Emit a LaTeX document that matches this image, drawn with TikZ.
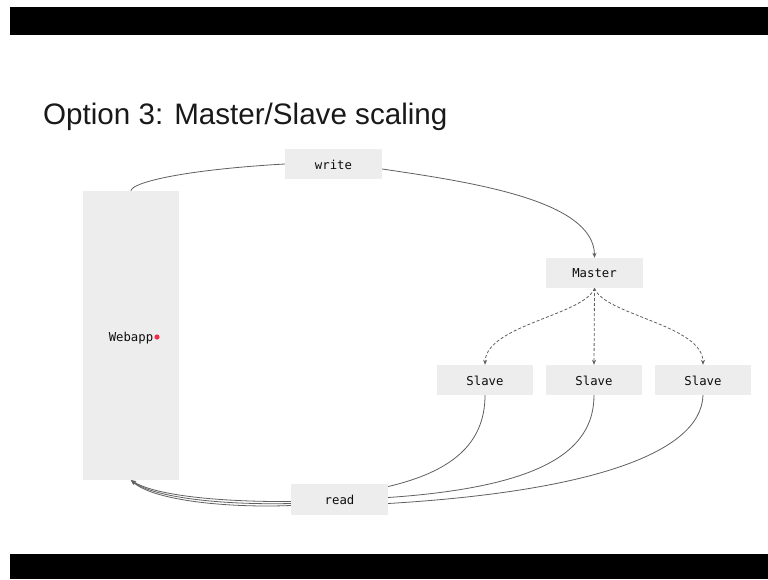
\documentclass[tikz,border=0pt]{standalone}
\usepackage{fontspec}
\setmainfont{Liberation Sans}
\newfontfamily\monofont{DejaVu Sans Mono}
\usetikzlibrary{arrows.meta,calc}
\definecolor{boxgray}{HTML}{EDEDED}
\definecolor{linegray}{HTML}{606060}
\definecolor{dotred}{HTML}{F0304A}
% label with its baseline set a given distance below the box centre
\newcommand\boxlabel[2]{\raisebox{-#1}[0pt][0pt]{#2}}
\begin{document}
\begin{tikzpicture}[x=1pt,y=-1pt,
  box/.style={fill=boxgray, inner sep=0pt, text=black!95,
    font=\monofont\fontsize{12.3}{14}\selectfont},
  link/.style={draw=linegray, line width=0.8pt},
  tipped/.style={-{Stealth[length=5pt,width=4pt]}},
  dashlink/.style={link, dash pattern=on 3pt off 2pt}
]
\useasboundingbox (0,0) rectangle (768,579);
\fill[white] (0,0) rectangle (768,579);
% slide frame bars
\fill[black] (10,7) rectangle (768,35);
\fill[black] (10,554) rectangle (768,579);

\node[anchor=base west, inner sep=0pt, text=black!90,
  font=\fontsize{29.6}{36}\selectfont] (title) at (43,124)
  {Option 3: Master/Slave scaling};

% boxes
\node[box, minimum width=96, minimum height=289] (webapp) at (131,335.5) {\boxlabel{6pt}{Webapp}};
\node[box, minimum width=97, minimum height=30] (write) at (333.5,164) {\boxlabel{5pt}{write}};
\node[box, minimum width=97, minimum height=30] (master) at (594.5,273) {\boxlabel{4.8pt}{Master}};
\node[box, minimum width=96, minimum height=30] (slaveA) at (485,380) {\boxlabel{5.2pt}{Slave}};
\node[box, minimum width=96, minimum height=30] (slaveB) at (594,380) {\boxlabel{5.2pt}{Slave}};
\node[box, minimum width=96, minimum height=30] (slaveC) at (703,380) {\boxlabel{5.2pt}{Slave}};
\node[box, minimum width=97, minimum height=31] (read) at (339.5,499.5) {\boxlabel{5pt}{read}};

\fill[dotred] ($(webapp.center)+(26,1.5)$) circle (2.6);

% write path
\draw[link] (webapp.north) .. controls (131,183) and (180,170) .. (write.west);
\draw[link, tipped] ($(write.east)+(0,5)$) .. controls (470,182) and (594,200) .. (master.north);

% replication
\draw[dashlink, tipped] (master.south) .. controls (585,315) and (486,325) .. (slaveA.north);
\draw[dashlink, tipped] (master.south) -- (slaveB.north);
\draw[dashlink, tipped] (master.south) .. controls (604,315) and (703,325) .. (slaveC.north);

% read paths
\draw[link] (slaveA.south) .. controls (485,445) and (450,472) .. ($(read.east)+(0,-13)$);
\draw[link] (slaveB.south) .. controls (594,452) and (540,487) .. ($(read.east)+(0,-2)$);
\draw[link] (slaveC.south) .. controls (701,456) and (580,492) .. ($(read.east)+(0,4)$);
\draw[link, tipped] ($(read.west)+(0,2)$) .. controls (230,502) and (158,497) .. (webapp.south);
\draw[link, tipped] ($(read.west)+(0,4)$) .. controls (230,505) and (156,499) .. (webapp.south);
\draw[link, tipped] ($(read.west)+(0,6)$) .. controls (230,508) and (154,501) .. (webapp.south);
\end{tikzpicture}
\end{document}
